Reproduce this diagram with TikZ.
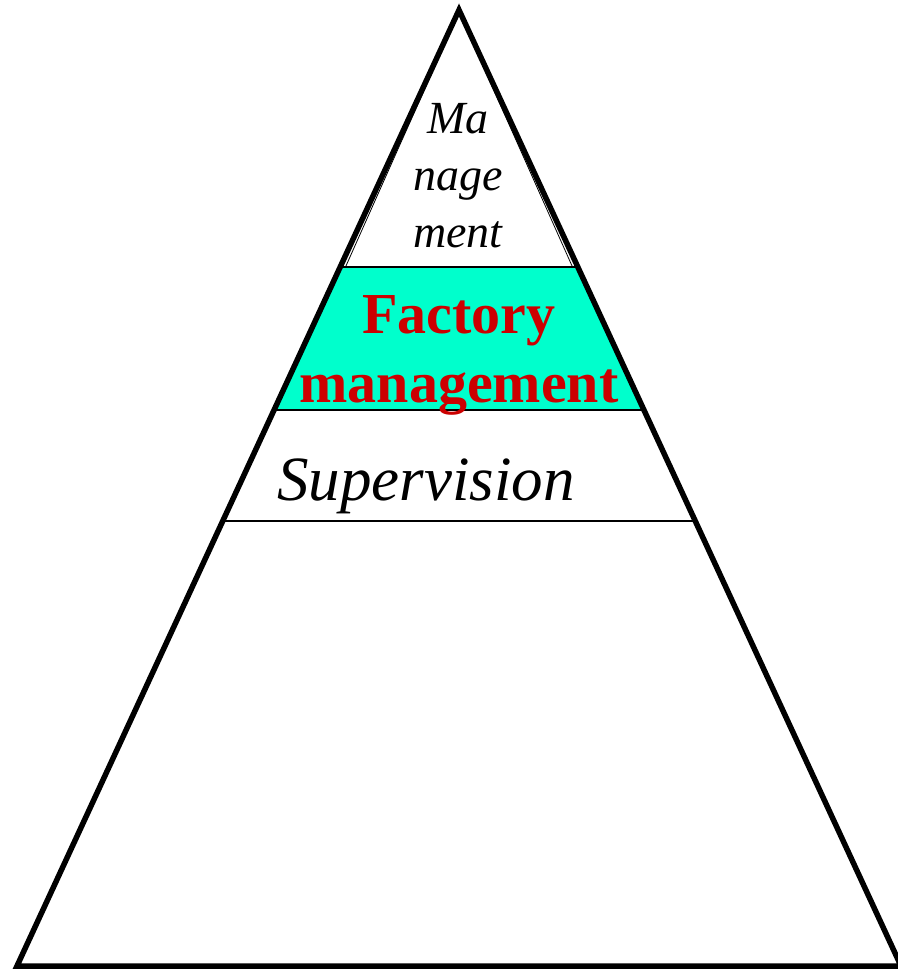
\documentclass[tikz,border=0pt]{standalone}
\usepackage{fontspec}
\setmainfont{Liberation Serif}
\usetikzlibrary{calc}
\definecolor{band}{HTML}{00FFCC}
\definecolor{redtext}{HTML}{CC0000}
\tikzset{
  outline/.style={line width=5.5pt, line join=miter},
  divider/.style={line width=2.4pt},
  thin divider/.style={line width=1.8pt},
  label it/.style={align=center, inner sep=0pt},
}
\begin{document}
\begin{tikzpicture}[x=1pt,y=-1pt]
\useasboundingbox (0,0) rectangle (897,971);
\coordinate (A) at (459,10);
\coordinate (L) at (17,966);
\coordinate (R) at (901,966);
% level coordinates along the sides
\coordinate (l1) at ($(A)!0.2688!(L)$);
\coordinate (r1) at ($(A)!0.2688!(R)$);
\coordinate (l2) at ($(A)!0.4184!(L)$);
\coordinate (r2) at ($(A)!0.4184!(R)$);
\coordinate (l3) at ($(A)!0.5345!(L)$);
\coordinate (r3) at ($(A)!0.5345!(R)$);
% green band
\fill[band] (l1) -- (r1) -- (r2) -- (l2) -- cycle;
% thin inner outline of the top section
\draw[line width=0.8pt] (459,12) -- (345.5,267) -- (572.5,267) -- cycle;
% dividers
\draw[divider] (l1) -- (r1);
\draw[divider] (l2) -- (r2);
\draw[thin divider] (l3) -- (r3);
% main triangle
\draw[outline] (A) -- (L) -- (R) -- cycle;
% texts (anchor=base is the baseline of the last line)
\node[label it, font=\fontsize{46}{57}\itshape\selectfont, anchor=base] (mgmt) at (458,247) {Ma\\nage\\ment};
\node[label it, font=\fontsize{58}{69}\bfseries\selectfont, text=redtext, anchor=base] (fact) at (459,402) {Factory\\management};
\node[label it, font=\fontsize{63}{70}\itshape\selectfont, anchor=base] (sup) at (426,500) {Supervision};
\end{tikzpicture}
\end{document}
